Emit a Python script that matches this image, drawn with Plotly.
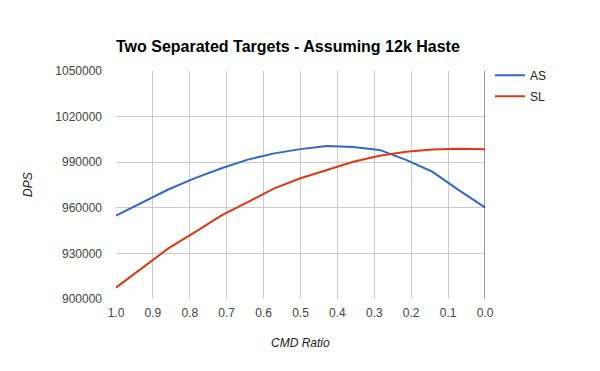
import plotly.graph_objects as go

cmd_ratio = [1.0, 0.929, 0.857, 0.786, 0.714, 0.643, 0.571, 0.5, 0.429, 0.357, 0.286, 0.214, 0.143, 0.071, 0.0]
as_dps = [954800, 963500, 972200, 979500, 986000, 991700, 995800, 998600, 1000600, 1000000, 998100, 991500, 983800, 971600, 960300]
sl_dps = [907500, 920500, 933500, 944000, 955000, 963700, 972800, 979400, 985000, 990300, 994300, 996900, 998300, 998800, 998500]

x_ticks = [1.0, 0.9, 0.8, 0.7, 0.6, 0.5, 0.4, 0.3, 0.2, 0.1, 0.0]
x_tick_labels = ["1.0", "0.9", "0.8", "0.7", "0.6", "0.5", "0.4", "0.3", "0.2", "0.1", "0.0"]
y_ticks = [900000, 930000, 960000, 990000, 1020000, 1050000]
y_tick_labels = [str(v) for v in y_ticks]

FONT = "Liberation Sans, Arial, sans-serif"

fig = go.Figure()
fig.add_trace(go.Scatter(x=cmd_ratio, y=as_dps, mode="lines", name="AS", legendgroup="a",
                         line=dict(color="#3366cc", width=2)))
fig.add_trace(go.Scatter(x=cmd_ratio, y=sl_dps, mode="lines", name="SL", legendgroup="b",
                         line=dict(color="#dc3912", width=2)))

fig.add_shape(type="line", xref="x", yref="paper", x0=0, x1=0, y0=0, y1=1,
              line=dict(color="#333333", width=1))

fig.update_layout(
    width=600, height=371,
    margin=dict(l=116, r=115, t=71, b=72),
    paper_bgcolor="white", plot_bgcolor="white",
    font=dict(family=FONT, size=12, color="#444444"),
    showlegend=True,
    legend=dict(x=1.0 + 5 / 369, xanchor="left", y=1.045, yanchor="top",
                font=dict(family=FONT, size=12, color="#222222"),
                bgcolor="rgba(0,0,0,0)", itemwidth=30, tracegroupgap=2),
    title=dict(text="<b>Two Separated Targets - Assuming 12k Haste</b>",
               x=116 / 600, xanchor="left", y=1 - 46 / 371, yanchor="middle",
               font=dict(family=FONT, size=16, color="#000000")),
    xaxis=dict(range=[1.0, 0.0], tickvals=x_ticks, ticktext=x_tick_labels,
               showgrid=True, gridcolor="#cccccc", gridwidth=1,
               zeroline=False, showline=False, ticks="", ticklabelstandoff=5,
               automargin=False,
               tickfont=dict(family=FONT, size=12, color="#444444")),
    yaxis=dict(range=[900000, 1050000], tickvals=y_ticks, ticktext=y_tick_labels,
               showgrid=True, gridcolor="#cccccc", gridwidth=1,
               zeroline=False, showline=False, ticks="", ticklabelstandoff=13,
               automargin=False,
               tickfont=dict(family=FONT, size=12, color="#444444")),
    annotations=[
        dict(text="<i>DPS</i>", x=(28 - 116) / 369, xanchor="center", y=0.5,
             xref="paper", yref="paper", textangle=-90, showarrow=False,
             font=dict(family=FONT, size=12, color="#222222")),
        dict(text="<i>CMD Ratio</i>", x=0.5, xanchor="center", y=-0.155,
             xref="paper", yref="paper", yanchor="top", showarrow=False,
             font=dict(family=FONT, size=12, color="#222222")),
    ],
)

fig.write_html("out.html", config={"displayModeBar": False})

# remove the default page margin so the figure sits at the window's top-left corner
with open("out.html", "r", encoding="utf-8") as f:
    html = f.read()
html = html.replace("<head>", "<head><style>html,body{margin:0;padding:0;overflow:hidden;}</style>", 1)
with open("out.html", "w", encoding="utf-8") as f:
    f.write(html)
